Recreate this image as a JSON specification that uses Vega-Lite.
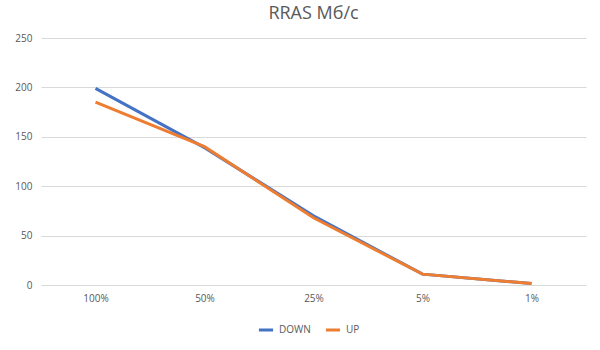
{
  "$schema": "https://vega.github.io/schema/vega-lite/v6.json",
  "autosize": "none",
  "width": 545,
  "height": 247,
  "padding": {"left": 41, "top": 38, "right": 14, "bottom": 65},
  "background": "white",
  "config": {"view": {"stroke": null}},
  "title": {"text": "RRAS Мб/с", "fontSize": 18, "font": "Open Sans", "fontWeight": "normal", "color": "#595959", "anchor": "middle", "offset": 10},
  "data": {"values": [
    {"level": "100%", "series": "DOWN", "value": 199},
    {"level": "50%", "series": "DOWN", "value": 139},
    {"level": "25%", "series": "DOWN", "value": 70},
    {"level": "5%", "series": "DOWN", "value": 11},
    {"level": "1%", "series": "DOWN", "value": 1.5},
    {"level": "100%", "series": "UP", "value": 185},
    {"level": "50%", "series": "UP", "value": 140},
    {"level": "25%", "series": "UP", "value": 68},
    {"level": "5%", "series": "UP", "value": 11},
    {"level": "1%", "series": "UP", "value": 1.5}
  ]},
  "mark": {"type": "line", "strokeWidth": 3},
  "encoding": {
    "x": {"field": "level", "type": "nominal", "sort": ["100%", "50%", "25%", "5%", "1%"],
      "scale": {"type": "point", "padding": 0.5},
      "axis": {"title": null, "labelAngle": 0, "domain": false, "ticks": false, "grid": false, "labelColor": "#595959", "labelFontSize": 10, "labelFont": "Open Sans", "labelPadding": 8}},
    "y": {"field": "value", "type": "quantitative", "scale": {"domain": [0, 250]},
      "axis": {"title": null, "values": [0, 50, 100, 150, 200, 250], "domain": false, "ticks": false, "gridColor": "#d9d9d9", "labelColor": "#595959", "labelFontSize": 10, "labelFont": "Open Sans", "labelPadding": 9}},
    "color": {"field": "series", "type": "nominal",
      "scale": {"domain": ["DOWN", "UP"], "range": ["#4472C4", "#ED7D31"]},
      "legend": {"title": null, "orient": "none", "legendX": 216, "legendY": 283, "direction": "horizontal", "symbolType": "stroke", "symbolStrokeWidth": 3, "symbolSize": 200, "labelColor": "#595959", "labelFontSize": 10, "labelFont": "Open Sans", "columnPadding": 8}}
  }
}
